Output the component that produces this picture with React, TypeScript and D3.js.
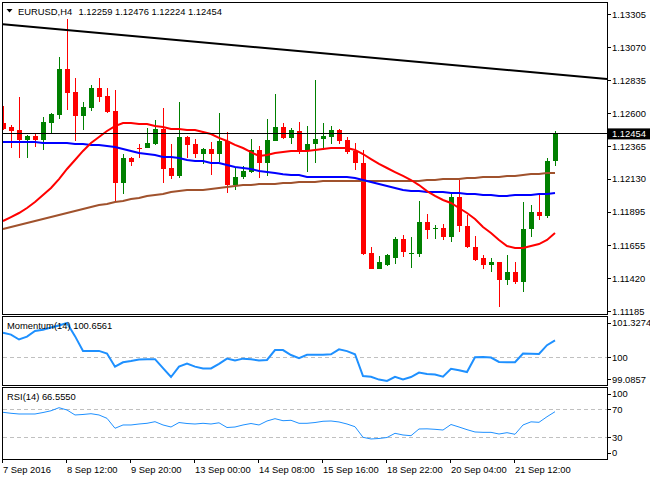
import * as d3 from "d3";

// EURUSD H4 bars, 7 Sep 2016 -> 22 Sep 2016
const opens = [
  1.12532, 1.12503, 1.12482, 1.1241, 1.12439, 1.1241, 1.12532, 1.12589, 1.12918, 1.12754,
  1.12582, 1.12639, 1.12782, 1.12725, 1.12618, 1.12103, 1.12282, 1.12353, 1.12353, 1.12382,
  1.12489, 1.1221, 1.12153, 1.12432, 1.12382, 1.1231, 1.12346, 1.1231, 1.12403, 1.12088,
  1.12146, 1.12181, 1.12339, 1.12246, 1.12403, 1.12503, 1.12425, 1.12475, 1.12332, 1.12382,
  1.12418, 1.12432, 1.12482, 1.1241, 1.12332, 1.12246, 1.11602, 1.11487, 1.11516, 1.11566,
  1.11702, 1.11598, 1.11595, 1.11824, 1.11774, 1.11781, 1.11717, 1.12003, 1.11795, 1.11645,
  1.11566, 1.11516, 1.11537, 1.11412, 1.11466, 1.11394, 1.11774, 1.11895, 1.11867, 1.12259,
];
const highs = [
  1.12654, 1.12518, 1.12718, 1.12446, 1.1246, 1.12575, 1.12604, 1.13004, 1.13276, 1.12854,
  1.12682, 1.12804, 1.12854, 1.12782, 1.12768, 1.1231, 1.12289, 1.12382, 1.12496, 1.12553,
  1.12639, 1.12382, 1.12682, 1.12439, 1.12418, 1.12353, 1.12396, 1.12604, 1.12468, 1.1221,
  1.12224, 1.12418, 1.12367, 1.12561, 1.12739, 1.12532, 1.12496, 1.12539, 1.1251, 1.1284,
  1.12532, 1.1251, 1.12489, 1.12432, 1.12389, 1.12339, 1.11645, 1.1158, 1.11595, 1.11716,
  1.11731, 1.11716, 1.11974, 1.11881, 1.11802, 1.11809, 1.12024, 1.12124, 1.11874, 1.11723,
  1.11588, 1.11566, 1.1154, 1.11588, 1.11537, 1.11967, 1.11945, 1.12017, 1.12282, 1.12476,
];
const lows = [
  1.12482, 1.12353, 1.12282, 1.12282, 1.1236, 1.12339, 1.12453, 1.12561, 1.12625, 1.12403,
  1.12482, 1.12618, 1.12682, 1.12604, 1.11967, 1.12024, 1.12224, 1.12282, 1.1235, 1.12375,
  1.12103, 1.12131, 1.12138, 1.12282, 1.12282, 1.12239, 1.1216, 1.12253, 1.12031, 1.12053,
  1.12131, 1.12174, 1.12138, 1.12153, 1.124, 1.12418, 1.12382, 1.1231, 1.12181, 1.12246,
  1.12339, 1.12382, 1.12382, 1.1231, 1.12196, 1.1159, 1.11485, 1.11485, 1.11509, 1.11523,
  1.11573, 1.11494, 1.11573, 1.11702, 1.11702, 1.11695, 1.11681, 1.11753, 1.11638, 1.11545,
  1.11487, 1.11466, 1.11215, 1.1137, 1.1138, 1.11323, 1.11717, 1.11838, 1.11852, 1.12224,
];
const closes = [
  1.12489, 1.12475, 1.1241, 1.12439, 1.1241, 1.12539, 1.12596, 1.12918, 1.12747, 1.12582,
  1.12646, 1.12782, 1.12718, 1.12611, 1.12103, 1.12282, 1.12253, 1.12346, 1.12389, 1.12489,
  1.12203, 1.12153, 1.12432, 1.12375, 1.1231, 1.12346, 1.1231, 1.12403, 1.12088, 1.12146,
  1.12189, 1.12339, 1.12246, 1.1241, 1.12503, 1.12425, 1.12482, 1.12332, 1.12382, 1.12418,
  1.12439, 1.12482, 1.12403, 1.12324, 1.12246, 1.11595, 1.11487, 1.11537, 1.11588, 1.11702,
  1.11609, 1.11605, 1.11824, 1.11766, 1.11781, 1.11716, 1.12003, 1.11795, 1.11646, 1.11552,
  1.11516, 1.11537, 1.11412, 1.11466, 1.11394, 1.11774, 1.11895, 1.11867, 1.1226, 1.12454,
];

// moving averages
const maFast = [
  1.11831, 1.11859, 1.11888, 1.11924, 1.11967, 1.12017, 1.12067, 1.12131, 1.12203, 1.12267,
  1.12332, 1.12389, 1.12432, 1.12475, 1.1251, 1.12532, 1.12532, 1.12525, 1.12525, 1.1251,
  1.12503, 1.12489, 1.12489, 1.12482, 1.12482, 1.12468, 1.12453, 1.12425, 1.12403, 1.12375,
  1.12353, 1.12324, 1.12296, 1.12303, 1.12317, 1.12324, 1.12332, 1.12332, 1.12332, 1.12339,
  1.12346, 1.12353, 1.12353, 1.12353, 1.12339, 1.1231, 1.12274, 1.12239, 1.1221, 1.12181,
  1.12153, 1.12124, 1.12088, 1.12045, 1.1201, 1.11981, 1.1196, 1.11924, 1.11888, 1.11845,
  1.11788, 1.11745, 1.11695, 1.11652, 1.11638, 1.11638, 1.11652, 1.11666, 1.11695, 1.11745,
];
const maMid = [
  1.12396, 1.12396, 1.12396, 1.12396, 1.12396, 1.12389, 1.12389, 1.12389, 1.12389, 1.12382,
  1.12382, 1.12375, 1.12375, 1.12367, 1.1236, 1.12346, 1.12332, 1.12317, 1.1231, 1.12303,
  1.12289, 1.12289, 1.12282, 1.12267, 1.1226, 1.1226, 1.12246, 1.12246, 1.12231, 1.12217,
  1.1221, 1.12203, 1.12189, 1.12181, 1.12174, 1.12165, 1.1216, 1.1216, 1.12146, 1.12146,
  1.12146, 1.12146, 1.12146, 1.12146, 1.12138, 1.12124, 1.1211, 1.12095, 1.12081, 1.12067,
  1.12053, 1.12045, 1.12045, 1.12038, 1.12038, 1.12038, 1.12031, 1.12031, 1.12024, 1.12024,
  1.12017, 1.12017, 1.1201, 1.1201, 1.12017, 1.12017, 1.12017, 1.12024, 1.12024, 1.12031,
];
const maSlow = [
  1.11774, 1.11788, 1.11802, 1.11816, 1.11831, 1.11845, 1.11859, 1.11874, 1.11888, 1.11902,
  1.11917, 1.11931, 1.11945, 1.11952, 1.11967, 1.11974, 1.11988, 1.11995, 1.1201, 1.12017,
  1.12024, 1.12038, 1.12045, 1.12053, 1.12053, 1.12053, 1.1206, 1.12067, 1.12074, 1.12081,
  1.12088, 1.12088, 1.12095, 1.12095, 1.12095, 1.12103, 1.12103, 1.1211, 1.1211, 1.1211,
  1.12117, 1.12117, 1.12117, 1.12117, 1.12117, 1.12117, 1.12117, 1.12117, 1.12117, 1.12117,
  1.12117, 1.12117, 1.12117, 1.12124, 1.12124, 1.12131, 1.12131, 1.12131, 1.12138, 1.12138,
  1.12146, 1.12146, 1.12146, 1.12153, 1.12153, 1.1216, 1.12167, 1.12167, 1.12174, 1.12174,
];

const momentum = [
  100.95, 100.88, 100.69, 100.8, 101.02, 101.07, 101.15, 101.23, 101.3274, 100.82,
  100.25, 100.25, 100.25, 100.15, 99.64, 99.81, 99.86, 99.92, 99.93, 99.93,
  99.58, 99.24, 99.64, 99.76, 99.64, 99.57, 99.57, 99.75, 99.95, 99.88,
  99.95, 99.93, 99.88, 99.9, 100.28, 100.28, 100.09, 99.97, 100.1, 100.1,
  100.1, 100.12, 100.31, 100.24, 100.12, 99.28, 99.25, 99.14, 99.0857, 99.25,
  99.15, 99.24, 99.41, 99.36, 99.34, 99.25, 99.56, 99.5, 99.43, 100.0,
  100.01, 99.99, 99.82, 99.81, 99.81, 100.15, 100.14, 100.13, 100.47, 100.6561,
];
const rsi = [
  65.7, 64.3, 63.3, 63.3, 63.3, 65.4, 67.9, 72.3, 69.0, 61.9,
  62.6, 63.7, 61.9, 57.1, 42.9, 47.6, 47.6, 49.0, 50.0, 52.3,
  47.6, 44.7, 51.1, 49.7, 49.0, 50.0, 49.0, 50.7, 44.0, 44.7,
  47.6, 49.7, 47.6, 53.3, 56.6, 53.7, 54.3, 50.0, 50.0, 51.1,
  52.9, 53.3, 51.9, 49.0, 45.1, 30.0, 27.6, 28.3, 29.7, 35.7,
  33.3, 32.3, 41.9, 42.1, 41.4, 40.4, 48.3, 44.7, 40.9, 37.6,
  37.1, 37.1, 34.7, 36.6, 34.3, 47.6, 52.1, 51.4, 59.4, 66.555,
];

// trend line anchors (bar index, price)
const trendBars = [0, 75.5];
const trendPrices = [1.13238, 1.12847];

const priceTicks = [1.13305, 1.1307, 1.12835, 1.126, 1.12365, 1.1213, 1.11895, 1.11655, 1.1142, 1.11185];
const momTicks = [101.3274, 100, 99.0857];
const rsiTicks = [100, 70, 30, 0];
const timeLabels = [
  "7 Sep 2016", "8 Sep 12:00", "9 Sep 20:00", "13 Sep 00:00", "14 Sep 08:00",
  "15 Sep 16:00", "18 Sep 22:00", "20 Sep 04:00", "21 Sep 12:00",
];
const LABEL_EVERY = 8;

const W = 650;
const H = 480;
const LEFT = 2.5;
const RIGHT = 607.5;
const MAIN = { top: 2.5, bottom: 314.5 };
const MOM = { top: 316.5, bottom: 385.5 };
const RSIP = { top: 387.5, bottom: 459 };
const FONT = "'Liberation Sans', Arial, sans-serif";
const FS = 9.4;
const BULL = "#008000";
const BEAR = "#ff0000";
const OSC = "#1e90ff";

export default function App() {
  const x = d3.scaleLinear().domain([0, 75.5]).range([3, 607]);
  const y = d3.scaleLinear().domain([1.11162, 1.13394]).range([MAIN.bottom, MAIN.top]);
  const yMom = d3.scaleLinear().domain([99.0857, 101.3274]).range([381, 323]);
  const yRsi = d3.scaleLinear().domain([0, 100]).range([458.3, 388.3]);

  const idx = d3.range(closes.length);
  const priceLine = (vals: number[]) =>
    d3.line<number>().x((_, i) => x(i)).y((v) => y(v))(vals) || "";
  const momPath = d3.line<number>().x((_, i) => x(i)).y((v) => yMom(v))(momentum) || "";
  const rsiPath = d3.line<number>().x((_, i) => x(i)).y((v) => yRsi(v))(rsi) || "";
  const trendPath =
    d3.line<number>().x((_, i) => x(trendBars[i])).y((v) => y(v))(trendPrices) || "";

  const last = closes[closes.length - 1];
  const lastY = y(last);

  const panel = (p: { top: number; bottom: number }, key: string) => (
    <rect
      key={key}
      x={LEFT}
      y={p.top}
      width={RIGHT - LEFT}
      height={p.bottom - p.top}
      fill="none"
      stroke="#000"
      strokeWidth={1}
      shapeRendering="crispEdges"
    />
  );

  const axisLabel = (yy: number, text: string, key: string) => (
    <g key={key}>
      <line x1={RIGHT} x2={RIGHT + 3.5} y1={yy} y2={yy} stroke="#000" shapeRendering="crispEdges" />
      <text x={612} y={yy} dy="0.35em" fontSize={FS} fontFamily={FONT} fill="#000">
        {text}
      </text>
    </g>
  );

  return (
    <div style={{ position: "absolute", left: 0, top: 0 }}>
      <svg width={W} height={H} style={{ display: "block", background: "#fff" }}>
        <defs>
          <clipPath id="clipMain">
            <rect x={LEFT} y={MAIN.top} width={RIGHT - LEFT} height={MAIN.bottom - MAIN.top} />
          </clipPath>
          <clipPath id="clipMom">
            <rect x={LEFT} y={MOM.top} width={RIGHT - LEFT} height={MOM.bottom - MOM.top} />
          </clipPath>
          <clipPath id="clipRsi">
            <rect x={LEFT} y={RSIP.top} width={RIGHT - LEFT} height={RSIP.bottom - RSIP.top} />
          </clipPath>
        </defs>

        {/* main price panel */}
        <g clipPath="url(#clipMain)">
          {idx.map((i) => {
            const up = closes[i] >= opens[i];
            const c = up ? BULL : BEAR;
            const xc = Math.round(x(i));
            const top = y(Math.max(opens[i], closes[i]));
            const bot = y(Math.min(opens[i], closes[i]));
            return (
              <g key={i} shapeRendering="crispEdges">
                <line x1={xc + 0.5} x2={xc + 0.5} y1={y(highs[i])} y2={y(lows[i])} stroke={c} strokeWidth={1} />
                <rect x={xc - 2} y={top} width={5} height={Math.max(1, bot - top)} fill={c} />
              </g>
            );
          })}
          <path d={priceLine(maSlow)} fill="none" stroke="#a0522d" strokeWidth={2} />
          <path d={priceLine(maMid)} fill="none" stroke="#0000ff" strokeWidth={2} />
          <path d={priceLine(maFast)} fill="none" stroke="#ff0000" strokeWidth={2} />
          <path d={trendPath} fill="none" stroke="#000" strokeWidth={2} />
          <line x1={LEFT} x2={RIGHT} y1={lastY} y2={lastY} stroke="#000" strokeWidth={1} shapeRendering="crispEdges" />
        </g>
        {panel(MAIN, "pMain")}

        <polygon points="6.5,9 12.5,9 9.5,12.5" fill="#000" />
        <text x={18} y={14.5} fontSize={FS} fontFamily={FONT} fill="#000">
          EURUSD,H4
        </text>
        <text x={78.5} y={14.5} fontSize={FS} fontFamily={FONT} fill="#000">
          {[opens, highs, lows, closes].map((a) => a[a.length - 1].toFixed(5)).join(" ")}
        </text>

        {priceTicks.map((t) => axisLabel(y(t), t.toFixed(5), "pt" + t))}
        <rect x={608} y={lastY - 5.5} width={42} height={11} fill="#000" />
        <text x={612} y={lastY} dy="0.35em" fontSize={FS} fontFamily={FONT} fill="#fff">
          {last.toFixed(5)}
        </text>

        {/* momentum panel */}
        <g clipPath="url(#clipMom)">
          <line x1={LEFT} x2={RIGHT} y1={yMom(100)} y2={yMom(100)} stroke="#c0c0c0" strokeDasharray="4,3" shapeRendering="crispEdges" />
          <path d={momPath} fill="none" stroke={OSC} strokeWidth={2} />
        </g>
        {panel(MOM, "pMom")}
        <text x={7} y={329} fontSize={FS} fontFamily={FONT} fill="#000">
          {"Momentum(14) " + momentum[momentum.length - 1].toFixed(4)}
        </text>
        {momTicks.map((t) =>
          axisLabel(
            Math.max(MOM.top + 6.5, Math.min(MOM.bottom - 6, yMom(t))),
            t === 100 ? "100" : t.toFixed(4),
            "mt" + t
          )
        )}

        {/* RSI panel */}
        <g clipPath="url(#clipRsi)">
          {[70, 30].map((l) => (
            <line key={l} x1={LEFT} x2={RIGHT} y1={yRsi(l)} y2={yRsi(l)} stroke="#c0c0c0" strokeDasharray="4,3" shapeRendering="crispEdges" />
          ))}
          <path d={rsiPath} fill="none" stroke={OSC} strokeWidth={1} />
        </g>
        {panel(RSIP, "pRsi")}
        <text x={7} y={400} fontSize={FS} fontFamily={FONT} fill="#000">
          {"RSI(14) " + rsi[rsi.length - 1].toFixed(4)}
        </text>
        {rsiTicks.map((t) =>
          axisLabel(Math.max(RSIP.top + 6.5, Math.min(RSIP.bottom - 6, yRsi(t))), String(t), "rt" + t)
        )}

        {/* time axis */}
        {timeLabels.map((lab, k) => {
          const xt = Math.round(x(k * LABEL_EVERY)) - 0.5;
          return (
            <g key={lab}>
              <line x1={xt} x2={xt} y1={RSIP.bottom} y2={RSIP.bottom + 4} stroke="#000" />
              <text x={xt + 0.5} y={472.5} fontSize={FS} fontFamily={FONT} fill="#000">
                {lab}
              </text>
            </g>
          );
        })}
      </svg>
    </div>
  );
}
